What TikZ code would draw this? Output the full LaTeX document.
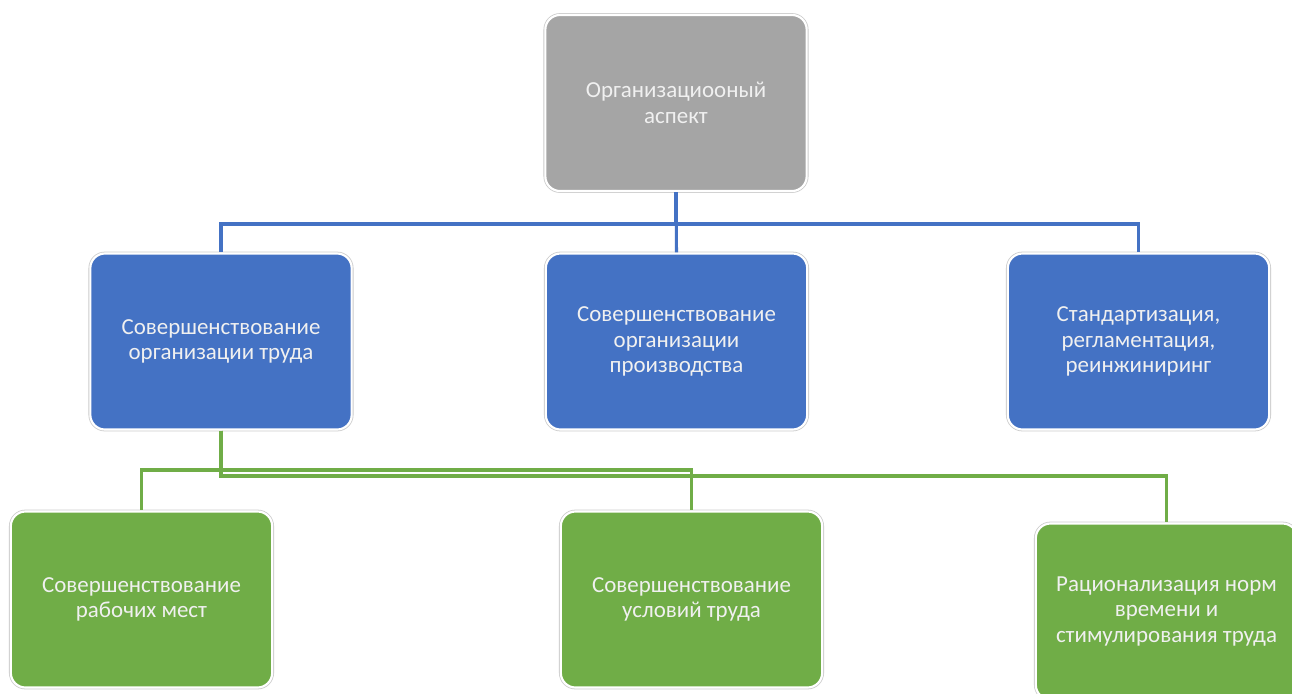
\documentclass[tikz,border=0pt]{standalone}
\usepackage{fontspec}
\setmainfont{Carlito}
\definecolor{boxgray}{HTML}{A5A5A5}
\definecolor{boxblue}{HTML}{4472C4}
\definecolor{boxgreen}{HTML}{70AD47}
\definecolor{lineblue}{HTML}{4472C4}
\definecolor{linegreen}{HTML}{70AD47}
\tikzset{
  box/.style={rectangle, rounded corners=11pt, minimum width=196pt, minimum height=132pt,
    inner sep=4pt, draw=white, line width=1.6pt, text=white!94!black, align=center,
    font=\fontsize{17.2}{19.2}\selectfont,
    preaction={draw=black!20, line width=2.8pt}},
  graybox/.style={box, fill=boxgray},
  bluebox/.style={box, fill=boxblue},
  greenbox/.style={box, fill=boxgreen},
  bluelink/.style={draw=lineblue, line width=2.3pt},
  greenlink/.style={draw=linegreen, line width=2.3pt}
}
\begin{document}
\begin{tikzpicture}[x=0.75pt,y=-0.75pt]
  \useasboundingbox (0,0) rectangle (1292,693);
  \fill[white] (0,0) rectangle (1292,693);
  \clip (0,0) rectangle (1292,693);

  % hierarchy boxes
  \node[graybox]  (top) at (676,103)   {Организациооный\\аспект};
  \node[bluebox]  (bL)  at (221,341.5) {Совершенствование\\организации труда};
  \node[bluebox]  (bM)  at (676.5,341.5) {Совершенствование\\организации\\производства};
  \node[bluebox]  (bR)  at (1138.5,341.5) {Стандартизация,\\регламентация,\\реинжиниринг};
  \node[greenbox] (gL)  at (141.5,599.5) {Совершенствование\\рабочих мест};
  \node[greenbox] (gM)  at (691.5,599.5) {Совершенствование\\условий труда};
  \node[greenbox] (gR)  at (1166.5,611.5) {Рационализация норм\\времени и\\стимулирования труда};

  % branching levels of the connectors
  \coordinate (busB) at (0,224);
  \coordinate (busG1) at (0,470);
  \coordinate (busG2) at (0,476);

  % first level
  \draw[bluelink] (top.south) -- (top.south |- busB) -| (bL.north);
  \draw[bluelink] (top.south) -- (top.south |- busB) -| (bR.north);
  \draw[bluelink] (top.south) -- (bM.north);

  % second level
  \draw[greenlink] (bL.south) -- (bL.south |- busG1) -| (gL.north);
  \draw[greenlink] (bL.south) -- (bL.south |- busG1) -| (gM.north);
  \draw[greenlink] (bL.south) -- (bL.south |- busG2) -| (gR.north);
\end{tikzpicture}
\end{document}
